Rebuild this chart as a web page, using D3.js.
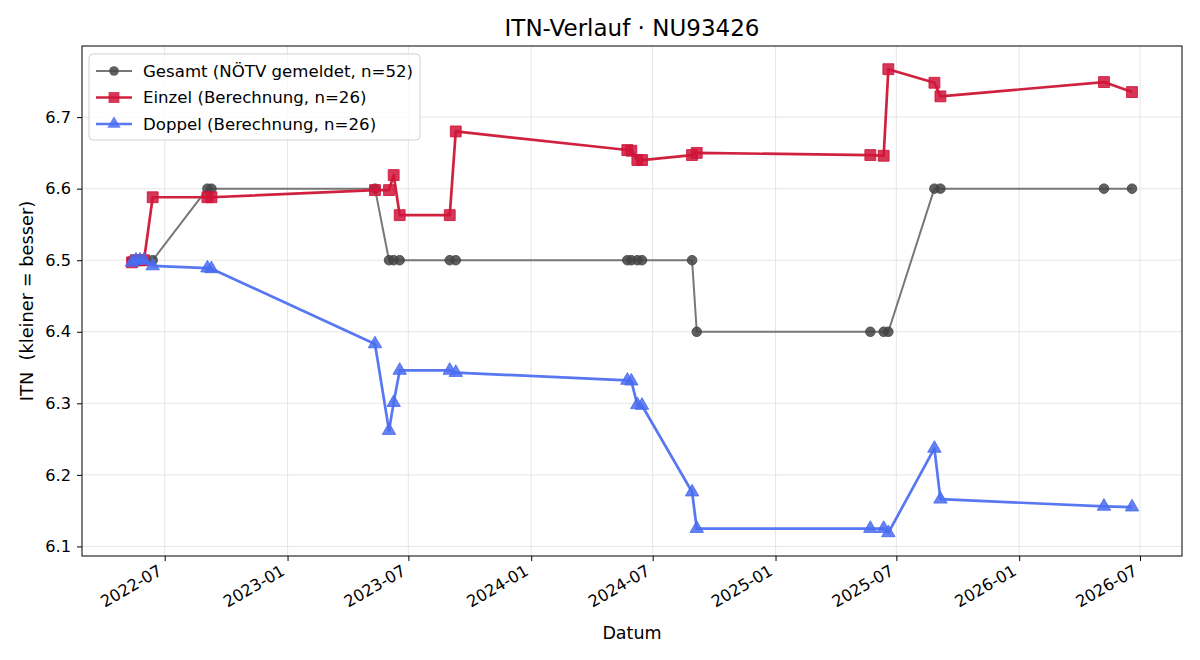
<!DOCTYPE html>
<html>
<head>
<meta charset="utf-8">
<script src="https://cdn.jsdelivr.net/npm/d3@7"></script>
<style>
  body { margin: 0; background: #fff; font-family: "DejaVu Sans", sans-serif; }
  .grid line { stroke: #e3e3e3; stroke-width: 0.9; }
  .axis text { font-size: 16.2px; font-family: "DejaVu Sans", sans-serif; fill: #000; }
  .axis path, .axis line { stroke: #000; }
</style>
</head>
<body>
<div id="chart"></div>
<script>
// Messzeitpunkte
const dates = [
  "2022-05-13", "2022-05-19", "2022-05-25", "2022-05-31", "2022-06-13",
  "2022-09-03", "2022-09-09", "2023-05-12", "2023-06-02", "2023-06-09",
  "2023-06-18", "2023-09-01", "2023-09-10", "2024-05-24", "2024-05-30",
  "2024-06-08", "2024-06-15", "2024-08-29", "2024-09-05", "2025-05-23",
  "2025-06-12", "2025-06-19", "2025-08-27", "2025-09-05", "2026-05-08",
  "2026-06-19"
];
const gesamt = [
  6.5, 6.5, 6.5, 6.5, 6.5,
  6.6, 6.6, 6.6, 6.5, 6.5,
  6.5, 6.5, 6.5, 6.5, 6.5,
  6.5, 6.5, 6.5, 6.4, 6.4,
  6.4, 6.4, 6.6, 6.6, 6.6,
  6.6
];
const einzel = [
  6.497, 6.5, 6.5, 6.5, 6.588,
  6.588, 6.588, 6.598, 6.598, 6.619,
  6.563, 6.563, 6.680, 6.654, 6.653,
  6.640, 6.640, 6.647, 6.650, 6.647,
  6.646, 6.767, 6.748, 6.729, 6.749,
  6.735
];
const doppel = [
  6.497, 6.5, 6.5, 6.5, 6.492,
  6.489, 6.488, 6.383, 6.262, 6.301,
  6.346, 6.346, 6.343, 6.332, 6.331,
  6.298, 6.297, 6.176, 6.125, 6.125,
  6.125, 6.119, 6.237, 6.166, 6.156,
  6.155
];
const yTicks = [6.1, 6.2, 6.3, 6.4, 6.5, 6.6, 6.7];

const parse = d3.timeParse("%Y-%m-%d");
const series = [
  {name: "Gesamt (NÖTV gemeldet, n=52)", values: gesamt, line: "#777", mark: "#444", symbol: "circle", width: 2},
  {name: "Einzel (Berechnung, n=26)", values: einzel, line: "#d0223f", mark: "#d0143a", symbol: "square", width: 2.7},
  {name: "Doppel (Berechnung, n=26)", values: doppel, line: "#5877f2", mark: "#4a6cf0", symbol: "triangle", width: 2.7}
];
series.forEach(s => {
  s.points = dates.map((d, i) => ({date: parse(d), value: s.values[i]}));
});

const W = 1200, H = 660;
const margin = {top: 46, right: 18, bottom: 104, left: 82};
const width = W - margin.left - margin.right;
const height = H - margin.top - margin.bottom;

const svg = d3.select("#chart").append("svg")
  .attr("width", W).attr("height", H);

const g = svg.append("g")
  .attr("transform", `translate(${margin.left},${margin.top})`);

// Skalen mit 5% Rand wie matplotlib
const xExt = d3.extent(dates, d => parse(d));
const xPad = (xExt[1] - xExt[0]) * 0.05;
const x = d3.scaleTime()
  .domain([new Date(+xExt[0] - xPad), new Date(+xExt[1] + xPad)])
  .range([0, width]);

const allVals = gesamt.concat(einzel, doppel);
const yExt = d3.extent(allVals);
const yPad = (yExt[1] - yExt[0]) * 0.05;
const y = d3.scaleLinear()
  .domain([yExt[0] - yPad, yExt[1] + yPad])
  .range([height, 0]);

const xTickVals = x.ticks(d3.timeMonth.every(6));

// Gitter
g.append("g").attr("class", "grid")
  .selectAll("line").data(xTickVals).join("line")
  .attr("x1", d => x(d)).attr("x2", d => x(d))
  .attr("y1", 0).attr("y2", height);
g.append("g").attr("class", "grid")
  .selectAll("line").data(yTicks).join("line")
  .attr("x1", 0).attr("x2", width)
  .attr("y1", d => y(d)).attr("y2", d => y(d));

// Achsen
const xAxis = g.append("g").attr("class", "axis")
  .attr("transform", `translate(0,${height})`)
  .call(d3.axisBottom(x).tickValues(xTickVals).tickFormat(d3.timeFormat("%Y-%m")).tickSizeOuter(0).tickSize(5));
xAxis.select(".domain").remove();
xAxis.selectAll("text")
  .attr("x", 0).attr("y", 0).attr("dy", 0)
  .attr("text-anchor", "end")
  .attr("transform", "translate(-2,18) rotate(-30)");

const yAxis = g.append("g").attr("class", "axis")
  .call(d3.axisLeft(y).tickValues(yTicks).tickFormat(d3.format(".1f")).tickSizeOuter(0).tickSize(5).tickPadding(6));
yAxis.select(".domain").remove();

// Rahmen
g.append("rect")
  .attr("width", width).attr("height", height)
  .attr("fill", "none").attr("stroke", "#000").attr("stroke-width", 1);

// Linien und Marker
const line = d3.line().x(d => x(d.date)).y(d => y(d.value));
const symbols = {circle: d3.symbolCircle, square: d3.symbolSquare, triangle: d3.symbolTriangle};
const symSize = {circle: 72, square: 118, triangle: 78};

series.forEach(s => {
  g.append("path")
    .datum(s.points)
    .attr("fill", "none")
    .attr("stroke", s.line)
    .attr("stroke-width", s.width)
    .attr("stroke-linejoin", "round")
    .attr("d", line);
  g.append("g").selectAll("path").data(s.points).join("path")
    .attr("transform", d => `translate(${x(d.date)},${y(d.value)})`)
    .attr("d", d3.symbol().type(symbols[s.symbol]).size(symSize[s.symbol]))
    .attr("fill", s.mark)
    .attr("fill-opacity", 0.85)
    .attr("stroke", s.mark)
    .attr("stroke-opacity", 0.85)
    .attr("stroke-width", 1);
});

// Titel und Beschriftungen
svg.append("text")
  .attr("x", margin.left + width / 2).attr("y", 36)
  .attr("text-anchor", "middle")
  .style("font-size", "23px")
  .text("ITN-Verlauf · NU93426");

svg.append("text")
  .attr("x", margin.left + width / 2).attr("y", 639)
  .attr("text-anchor", "middle")
  .style("font-size", "17.5px")
  .text("Datum");

svg.append("text")
  .attr("transform", `translate(33,${margin.top + height / 2}) rotate(-90)`)
  .attr("text-anchor", "middle")
  .style("font-size", "17.8px")
  .style("white-space", "pre")
  .attr("xml:space", "preserve")
  .text("ITN  (kleiner = besser)");

// Legende
const leg = svg.append("g").attr("transform", "translate(89,54)");
leg.append("rect")
  .attr("width", 331).attr("height", 86)
  .attr("rx", 4)
  .attr("fill", "#fff").attr("fill-opacity", 0.8)
  .attr("stroke", "#d0d0d0");
series.forEach((s, i) => {
  const row = leg.append("g").attr("transform", `translate(0,${17 + i * 26.5})`);
  row.append("line")
    .attr("x1", 7).attr("x2", 43)
    .attr("stroke", s.line).attr("stroke-width", s.width);
  row.append("path")
    .attr("transform", "translate(25,0)")
    .attr("d", d3.symbol().type(symbols[s.symbol]).size(symSize[s.symbol]))
    .attr("fill", s.mark).attr("fill-opacity", 0.85);
  row.append("text")
    .attr("x", 54).attr("dy", "0.35em")
    .style("font-size", "16.6px")
    .text(s.name);
});
</script>
</body>
</html>
